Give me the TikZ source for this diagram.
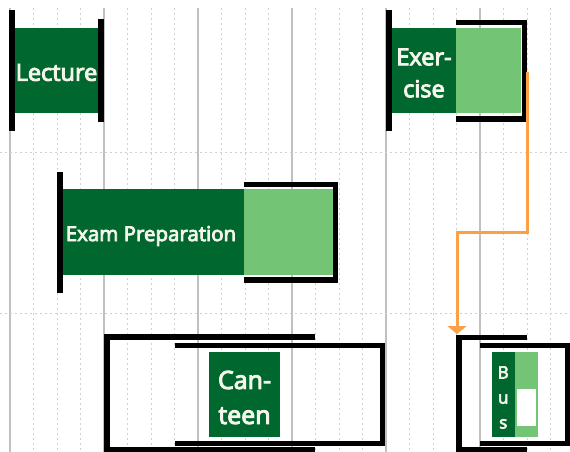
\documentclass[tikz,border=0pt]{standalone}
\usepackage{fontspec}
\setmainfont{Open Sans}
\newfontfamily\semibold{Open Sans}[FakeBold=4]
\usetikzlibrary{arrows.meta}
\definecolor{dkgreen}{RGB}{0,104,46}
\definecolor{ltgreen}{RGB}{116,196,118}
\definecolor{gridsolid}{RGB}{192,192,192}
\definecolor{griddot}{RGB}{208,208,208}
\definecolor{flowor}{RGB}{250,160,70}
\definecolor{txtc}{RGB}{245,245,235}
\tikzset{
  gridmajor/.style={draw=gridsolid, line width=1.5pt},
  gridminor/.style={draw=griddot, line width=1pt, dash pattern=on 2pt off 3pt},
  barfill/.style={fill=black},
  taskbox/.style={fill=dkgreen, inner sep=0pt},
  tasktext/.style={text=txtc, inner sep=0pt, align=center},
  progbox/.style={fill=ltgreen, inner sep=0pt},
  flow/.style={draw=flowor, line width=3pt, -{Triangle[width=19pt,length=8pt]}}
}
\begin{document}
\begin{tikzpicture}[x=1pt,y=-1pt]
\useasboundingbox (0,0) rectangle (570,452);
\fill[white] (0,0) rectangle (570,452);
% grid
\foreach \j in {0,...,5}{
  \foreach \k in {1,2,3}{
    \pgfmathsetmacro\xx{10+94*\j+23.5*\k}
    \draw[gridminor] (\xx,8) -- (\xx,452);
  }
}
\foreach \j in {0,...,5}{
  \pgfmathsetmacro\xx{10+94*\j}
  \draw[gridmajor] (\xx,8) -- (\xx,452);
}
\draw[gridminor] (0,152) -- (570,152);
\draw[gridminor] (0,313) -- (570,313);

% Lecture
\fill[barfill] (9,10) rectangle (15,131);
\node[taskbox, minimum width=83pt, minimum height=85pt] (lecture) at (56.5,70.5) {};
\node[tasktext, font=\semibold\fontsize{23.5}{28}\selectfont] (lecturetxt) at ([yshift=-2pt]lecture.center) {Lecture};
\fill[barfill] (98,19) rectangle (103.5,122);

% Exercise
\fill[barfill] (386,10) rectangle (392,131);
\node[taskbox, minimum width=64pt, minimum height=85pt] (exercise) at (424,70.5) {};
\node[tasktext, font=\semibold\fontsize{23.5}{32}\selectfont] (exercisetxt) at ([yshift=-2.5pt]exercise.center) {Exer-\\cise};
\node[progbox, minimum width=65pt, minimum height=85pt] (exprog) at (488.5,70.5) {};
\fill[barfill] (456,20) rectangle (527,25);
\fill[barfill] (521.5,20) rectangle (527,122);
\fill[barfill] (456,116) rectangle (527,122);
\coordinate (exout) at (527,72);

% Exam Preparation
\fill[barfill] (57,172) rectangle (63,293);
\node[taskbox, minimum width=181pt, minimum height=86pt] (exam) at (153.5,232) {};
\node[tasktext, font=\semibold\fontsize{20.5}{24}\selectfont] (examtxt) at ([xshift=-2.5pt,yshift=-4pt]exam.center) {Exam Preparation};
\node[progbox, minimum width=89pt, minimum height=86pt] (examprog) at (288.5,232) {};
\fill[barfill] (244,182) rectangle (338,187);
\fill[barfill] (333,182) rectangle (338,283);
\fill[barfill] (244,277) rectangle (338,283);

% Canteen
\fill[barfill] (104,334) rectangle (109.5,452);
\fill[barfill] (104,334) rectangle (315,339.5);
\fill[barfill] (104,447) rectangle (315,452);
\fill[barfill] (175,343) rectangle (385,348);
\fill[barfill] (379.5,343) rectangle (385,446);
\fill[barfill] (175,440.5) rectangle (385,446);
\node[taskbox, minimum width=71pt, minimum height=85pt] (canteen) at (244.5,394.5) {};
\node[tasktext, font=\semibold\fontsize{25}{35}\selectfont] (canteentxt) at ([yshift=-3pt]canteen.center) {Can-\\teen};

% Bus
\fill[barfill] (456,335) rectangle (461.5,452);
\fill[barfill] (456,335) rectangle (527,340);
\fill[barfill] (456,447) rectangle (527,452);
\fill[barfill] (480,343) rectangle (570,348);
\fill[barfill] (565,343) rectangle (570,446);
\fill[barfill] (480,440.5) rectangle (570,446);
\node[progbox, minimum width=23pt, minimum height=85pt] (busprog) at (526.5,394.5) {};
\fill[white] (517,389) rectangle (536,426);
\node[taskbox, minimum width=23.5pt, minimum height=85pt] (bus) at (503.25,394.5) {};
\node[tasktext, font=\semibold\fontsize{17}{25}\selectfont] (bustxt) at ([yshift=-3pt]bus.center) {B\\u\\s};
\coordinate (bustop) at (457,334);
\coordinate (turn) at (457,232);

% flow connector
\draw[flow] (exout) |- (turn) -- (bustop);
\end{tikzpicture}
\end{document}
